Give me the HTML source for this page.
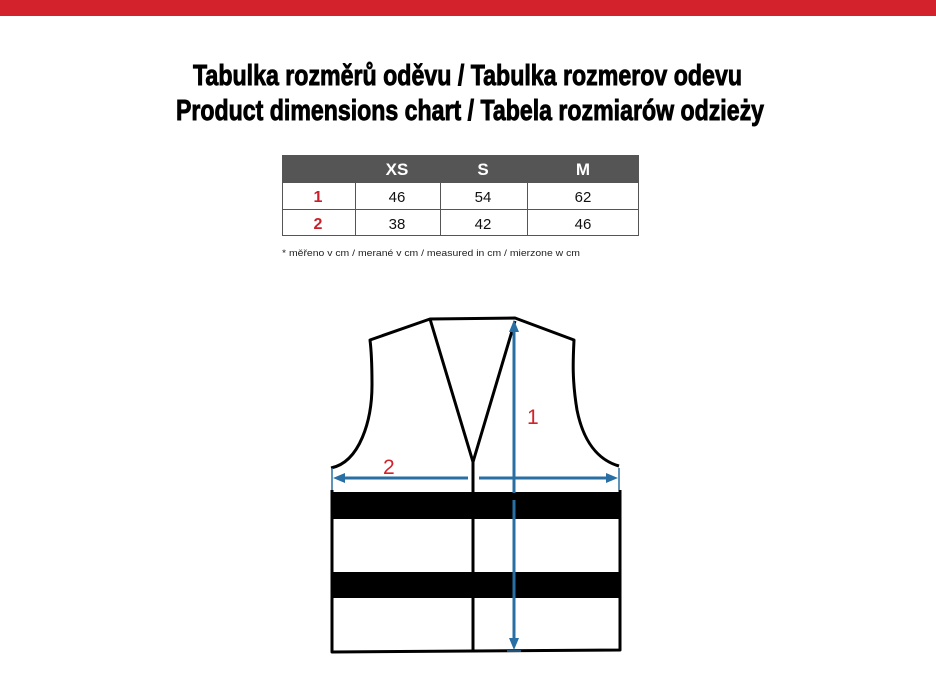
<!DOCTYPE html>
<html><head><meta charset="utf-8"><style>
html,body{margin:0;padding:0;background:#fff;width:936px;height:691px;overflow:hidden}
svg{display:block}
</style></head><body>
<svg width="936" height="691" viewBox="0 0 936 691" xmlns="http://www.w3.org/2000/svg">
<rect x="0" y="0" width="936" height="16" fill="#d3222b"/>
<g font-family="'Liberation Sans Narrow','Liberation Sans',sans-serif" font-weight="bold" font-size="29" fill="#000" stroke="#000" stroke-width="0.9">
<text x="193" y="85" textLength="549" lengthAdjust="spacingAndGlyphs">Tabulka rozměrů oděvu / Tabulka rozmerov odevu</text>
<text x="176" y="120" textLength="588" lengthAdjust="spacingAndGlyphs">Product dimensions chart / Tabela rozmiarów odzieży</text>
</g>
<!-- table -->
<rect x="282" y="155" width="357" height="27" fill="#555"/>
<g stroke="#555" stroke-width="1" fill="none">
<rect x="282.5" y="155.5" width="356" height="80"/>
<line x1="282" y1="182.5" x2="639" y2="182.5"/>
<line x1="282" y1="209.5" x2="639" y2="209.5"/>
<line x1="355.5" y1="155" x2="355.5" y2="236"/>
<line x1="440.5" y1="155" x2="440.5" y2="236"/>
<line x1="527.5" y1="155" x2="527.5" y2="236"/>
</g>
<g font-family="'Liberation Sans',sans-serif" text-anchor="middle">
<g font-weight="bold" font-size="17" fill="#fff">
<text x="397" y="175">XS</text><text x="483" y="175">S</text><text x="583" y="175">M</text>
</g>
<g font-weight="bold" font-size="16" fill="#c8202a">
<text x="318" y="202">1</text><text x="318" y="229">2</text>
</g>
<g font-size="15" fill="#111">
<text x="397" y="202">46</text><text x="483" y="202">54</text><text x="583" y="202">62</text>
<text x="397" y="229">38</text><text x="483" y="229">42</text><text x="583" y="229">46</text>
</g>
</g>
<text x="282" y="256" font-family="'Liberation Sans',sans-serif" font-size="9.5" fill="#222" textLength="298" lengthAdjust="spacingAndGlyphs">* měřeno v cm / merané v cm / measured in cm / mierzone w cm</text>
<!-- vest -->
<g fill="none" stroke="#000" stroke-width="3" stroke-linejoin="round">
<path d="M332 490 L332 652 L620 650 L620 490"/>
<path d="M331 468 C360 462 372 420 372 385 C372 360 371 348 370 340 L430 319 L515 318 L574 340 C573 360 572 380 577 410 C585 450 605 462 619 466"/>
<path d="M430 319 L473 462 L515 321"/>
<line x1="473" y1="462" x2="473" y2="650"/>
</g>
<rect x="331" y="492" width="290" height="27" fill="#000"/>
<rect x="331" y="572" width="290" height="26" fill="#000"/>
<!-- arrows -->
<g stroke="#2a6fa3" stroke-width="3" fill="#2a6fa3">
<line x1="514" y1="326" x2="514" y2="493"/>
<line x1="514" y1="500" x2="514" y2="645"/>
<line x1="338" y1="478" x2="468" y2="478"/>
<line x1="479" y1="478" x2="613" y2="478"/>
<line x1="332" y1="468" x2="332" y2="490" stroke-width="1.5"/>
<line x1="619" y1="468" x2="619" y2="490" stroke-width="1.5"/>
<line x1="507" y1="651" x2="521" y2="651" stroke-width="1.5"/>
<polygon points="514,320 509,332 519,332" stroke="none"/>
<polygon points="514,650 509,638 519,638" stroke="none"/>
<polygon points="333,478 345,473 345,483" stroke="none"/>
<polygon points="618,478 606,473 606,483" stroke="none"/>
</g>
<g font-family="'Liberation Sans',sans-serif" font-size="21" fill="#d3222b">
<text x="527" y="424">1</text>
<text x="383" y="474">2</text>
</g>
</svg>
</body></html>
